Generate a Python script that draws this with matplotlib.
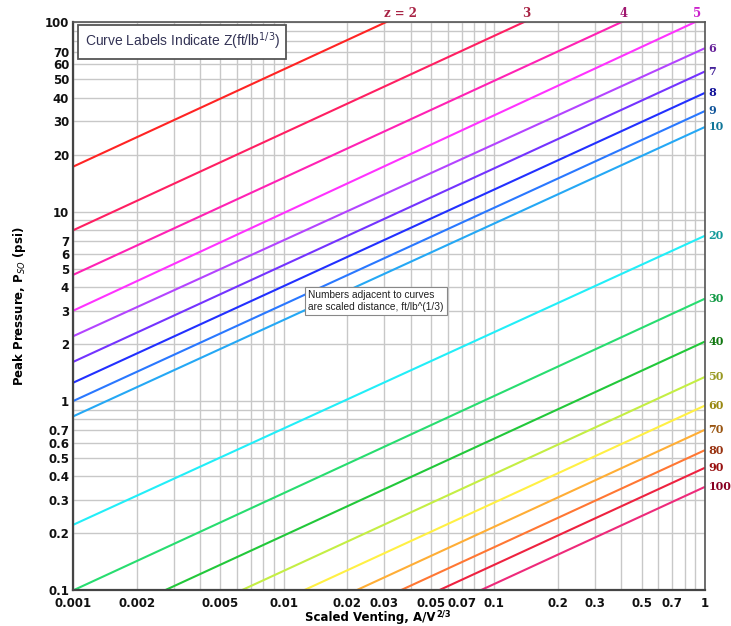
import numpy as np
import matplotlib
matplotlib.use("Agg")
import matplotlib.pyplot as plt
from matplotlib.ticker import FixedLocator, NullFormatter

# ---- data ----
z_values = [2, 3, 4, 5, 6, 7, 8, 9, 10, 20, 30, 40, 50, 60, 70, 80, 90, 100]
# peak pressure (psi) at scaled venting 0.001 and 1.0
p_at_0001 = [17.3, 7.98, 4.64, 3.0, 2.2, 1.61, 1.25, 1.0, 0.83, 0.222, 0.10,
             0.0599, 0.039, 0.0275, 0.0205, 0.016, 0.0129, 0.0102]
p_at_1 = [601, 277, 160, 106, 73, 55, 42.4, 34, 28, 7.46, 3.47,
          2.06, 1.34, 0.946, 0.705, 0.55, 0.444, 0.352]
x_ends = [0.001, 1.0]

line_colors = ["#ff2424", "#ff1f62", "#ff22b4", "#ff33ff", "#b444ff", "#7433ff",
               "#2230ff", "#2a78ff", "#25a8f5", "#22eef8", "#28dd70", "#22c83a",
               "#c4ee44", "#fff044", "#ffae36", "#ff7733", "#ee2240", "#ee2a7a"]
label_colors = ["#a82244", "#a82244", "#a01870", "#cc22cc", "#662299", "#442299",
                "#111199", "#11559a", "#117799", "#119999", "#119944", "#117711",
                "#999922", "#998811", "#995511", "#993311", "#991111", "#880022"]

x_ticks = [0.001, 0.002, 0.005, 0.01, 0.02, 0.03, 0.05, 0.07, 0.1, 0.2, 0.3, 0.5, 0.7, 1]
x_tick_labels = ["0.001", "0.002", "0.005", "0.01", "0.02", "0.03", "0.05", "0.07",
                 "0.1", "0.2", "0.3", "0.5", "0.7", "1"]
y_ticks = [0.1, 0.2, 0.3, 0.4, 0.5, 0.6, 0.7, 1, 2, 3, 4, 5, 6, 7,
           10, 20, 30, 40, 50, 60, 70, 100]
y_tick_labels = ["0.1", "0.2", "0.3", "0.4", "0.5", "0.6", "0.7", "1", "2", "3", "4",
                 "5", "6", "7", "10", "20", "30", "40", "50", "60", "70", "100"]

fig = plt.figure(figsize=(7.31, 6.26), dpi=100)
ax = fig.add_axes([0.1003, 0.057, 0.8641, 0.9074])
ax.set_xscale("log")
ax.set_yscale("log")
ax.set_xlim(0.001, 1)
ax.set_ylim(0.1, 100)

# grid at every 1..9 per decade
minor = []
for d in [0.001, 0.01, 0.1, 1, 10]:
    for k in range(1, 10):
        minor.append(d * k)
ax.xaxis.set_minor_locator(FixedLocator(minor))
ax.yaxis.set_minor_locator(FixedLocator(minor))
ax.xaxis.set_minor_formatter(NullFormatter())
ax.yaxis.set_minor_formatter(NullFormatter())
ax.set_xticks(x_ticks)
ax.set_xticklabels(x_tick_labels)
ax.set_yticks(y_ticks)
ax.set_yticklabels(y_tick_labels)
ax.grid(True, which="both", color="#c8c8c8", linewidth=1.0)
ax.set_axisbelow(True)
ax.tick_params(axis="x", which="both", length=0, pad=5)
ax.tick_params(axis="y", which="both", length=0, pad=3)
for lab in ax.get_xticklabels() + ax.get_yticklabels():
    lab.set_fontfamily("DejaVu Sans")
    lab.set_fontweight("bold")
    lab.set_fontsize(8.5)
    lab.set_color("#111111")

for s in ["left", "bottom"]:
    ax.spines[s].set_color("#444444")
    ax.spines[s].set_linewidth(1.6)
for s in ["right", "top"]:
    ax.spines[s].set_color("#555555")
    ax.spines[s].set_linewidth(1.2)

for z, p0, p1, lc, tc in zip(z_values, p_at_0001, p_at_1, line_colors, label_colors):
    ax.plot(x_ends, [p0, p1], color=lc, linewidth=1.5, solid_capstyle="butt")
    if p1 > 100:
        slope = (np.log10(p1) - np.log10(p0)) / 3.0
        xc = 10 ** (-3 + (2 - np.log10(p0)) / slope)
        txt = "z = 2" if z == 2 else str(z)
        ax.annotate(txt, xy=(xc, 100), xytext=(-1, 2), textcoords="offset points",
                    ha="left", va="bottom", color=tc, fontsize=8.5,
                    fontweight="bold", family="DejaVu Serif", annotation_clip=False)
    elif z == 5:
        ax.annotate("5", xy=(1, 100), xytext=(-7, 2), textcoords="offset points",
                    ha="left", va="bottom", color=tc, fontsize=8.5,
                    fontweight="bold", family="DejaVu Serif", annotation_clip=False)
    else:
        ax.annotate(str(z), xy=(1, p1), xytext=(2.5, 0), textcoords="offset points",
                    ha="left", va="center", color=tc, fontsize=8,
                    fontweight="bold", family="DejaVu Serif", annotation_clip=False)

# x-axis title placed as plain text plus a small raised "2/3"
fig.text(0.5963, 0.0075, "Scaled Venting, A/V", ha="right", va="baseline",
         fontsize=8.5, fontweight="bold", family="DejaVu Sans")
fig.text(0.5963, 0.0145, "2/3", ha="left", va="baseline",
         fontsize=6, fontweight="bold", family="DejaVu Sans")
ax.set_ylabel("Peak Pressure, P$_{SO}$ (psi)", fontsize=8.5, fontweight="bold",
              labelpad=12)

ax.text(0.018, 0.985, "Curve Labels Indicate Z(ft/lb$^{1/3}$)", transform=ax.transAxes,
        ha="left", va="top", fontsize=10, family="Liberation Sans", color="#333355",
        bbox=dict(boxstyle="square,pad=0.45", facecolor="white", edgecolor="#555555",
                  linewidth=1.3))

ax.text(0.372, 0.528, "Numbers adjacent to curves\nare scaled distance, ft/lb^(1/3)",
        transform=ax.transAxes, ha="left", va="top", fontsize=7.3,
        family="Liberation Sans", color="#222222", linespacing=1.15,
        bbox=dict(boxstyle="square,pad=0.3", facecolor="white", edgecolor="#888888",
                  linewidth=0.8))

fig.savefig("out.png", dpi=100)
